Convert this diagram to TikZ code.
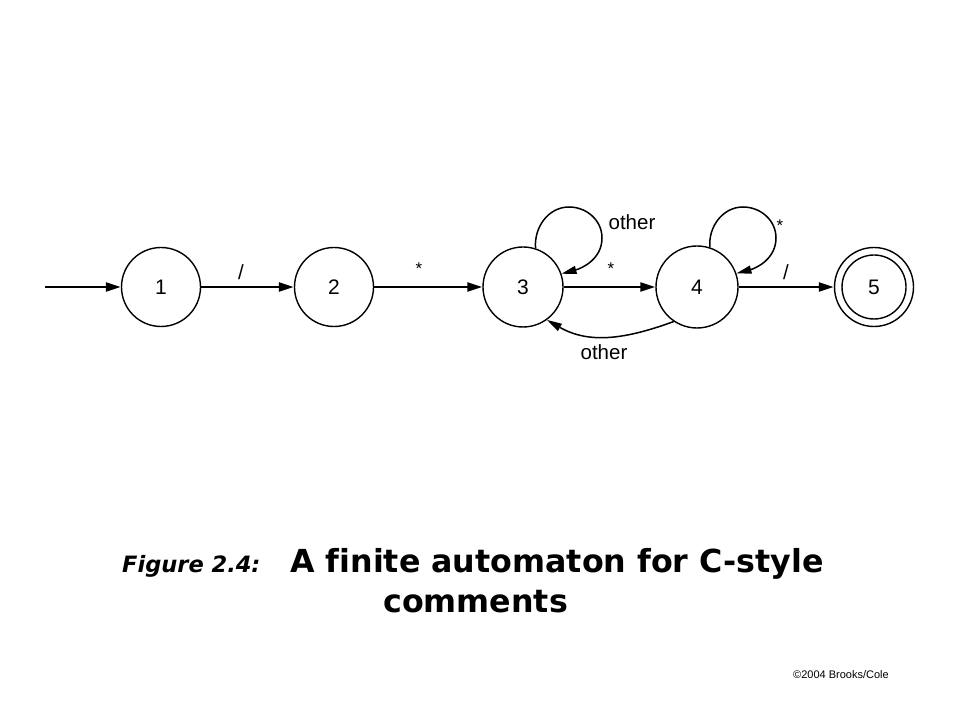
\documentclass[tikz,border=0pt]{standalone}
\usepackage{fontspec}
\setmainfont{Liberation Sans}
\newfontfamily\capfont{DejaVu Sans}[Ligatures=NoCommon,BoldFont={DejaVu Sans Bold},ItalicFont={DejaVu Sans Oblique},BoldItalicFont={DejaVu Sans Bold Oblique}]
\usetikzlibrary{arrows.meta}
\begin{document}
\begin{tikzpicture}[x=1pt,y=1pt,
  state/.style={circle,draw,line width=1.4pt,inner sep=0pt,font=\fontsize{21}{21}\selectfont},
  edgeline/.style={line width=2.3pt,-{Triangle[length=15pt,width=9pt]}},
  loopline/.style={line width=1.5pt,-{Triangle[length=15pt,width=8pt]}},
  lbl/.style={inner sep=0pt,font=\fontsize{20.5}{20}\selectfont},
  star/.style={inner sep=0pt,font=\fontsize{17}{17}\selectfont}]
\fill[white] (0,0) rectangle (960,720);
\useasboundingbox (0,0) rectangle (960,720);
% states
\node[state,minimum size=79pt] (s1) at (161,433) {1};
\node[state,minimum size=79pt] (s2) at (334,433) {2};
\node[state,minimum size=80pt] (s3) at (523,433) {3};
\node[state,minimum size=82pt] (s4) at (697,433) {4};
\node[state,minimum size=79pt] (s5) at (874,433) {5};
\node[circle,draw,line width=1.4pt,minimum size=64pt,inner sep=0pt] (s5in) at (s5) {};
\coordinate (start) at (45,433);
% straight transitions
\draw[edgeline] (start) -- (s1);
\draw[edgeline] (s1) -- (s2);
\draw[edgeline] (s2) -- (s3);
\draw[edgeline] (s3) -- (s4);
\draw[edgeline] (s4) -- (s5);
% loops
\coordinate (l3a) at (569,513);
\coordinate (l3b) at (602,482);
\draw[loopline] (s3.72) to[out=95,in=180] (l3a) to[out=0,in=90] (l3b) to[out=-90,in=15] (s3.19);
\coordinate (l4a) at (743,513);
\coordinate (l4b) at (776,482);
\draw[loopline] (s4.72) to[out=95,in=180] (l4a) to[out=0,in=90] (l4b) to[out=-90,in=15] (s4.19);
% back edge
\draw[loopline] (s4.-124) to[out=-160,in=-30] (s3.-54);
% labels
\node[lbl] (t12) at (241,448) {/};
\node[star] (t23) at (419,451) {*};
\node[star] (t34) at (611,451) {*};
\node[lbl] (t45) at (786,448) {/};
\node[lbl] (t33) at (632,498) {other};
\node[star] (t44) at (780,494) {*};
\node[lbl] (t43) at (604,368) {other};
% caption
\node[anchor=base west,inner sep=0pt,font=\capfont\bfseries\itshape\fontsize{22.5}{26}\selectfont] (cap1) at (122,147) {Figure 2.4:};
\node[anchor=base west,inner sep=0pt,font=\capfont\bfseries\fontsize{31.7}{36}\selectfont] (cap2) at (290,147) {A finite automaton for C-style};
\node[anchor=base west,inner sep=0pt,font=\capfont\bfseries\fontsize{31.7}{36}\selectfont] (cap3) at (383,108) {comments};
\node[anchor=base west,inner sep=0pt,font=\fontsize{11}{12}\selectfont] (copy) at (793,42) {©2004 Brooks/Cole};
\end{tikzpicture}
\end{document}
